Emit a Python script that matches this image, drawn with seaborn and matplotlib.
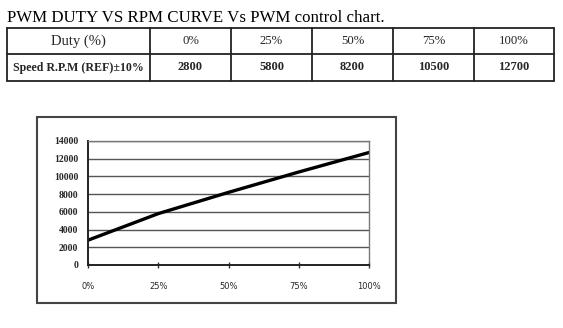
import matplotlib
matplotlib.use("Agg")
import matplotlib.pyplot as plt
import seaborn as sns
import pandas as pd
from matplotlib.lines import Line2D
from matplotlib.patches import Rectangle

# ---- data ----
duty_labels = ["0%", "25%", "50%", "75%", "100%"]
duty_values = [0, 25, 50, 75, 100]
rpm_values = [2800, 5800, 8200, 10500, 12700]
y_ticks = [0, 2000, 4000, 6000, 8000, 10000, 12000, 14000]
title_text = "PWM DUTY VS RPM CURVE Vs PWM control chart."
row_header_1 = "Duty (%)"
row_header_2 = "Speed R.P.M (REF)±10%"

sns.set_theme(style="white")
plt.rcParams["font.family"] = ["Liberation Serif", "DejaVu Serif"]

W, H = 563, 328
fig = plt.figure(figsize=(W / 100, H / 100), dpi=100)

def fx(px):
    return px / W

def fy(py):
    return 1 - py / H

# ---- title ----
fig.text(fx(7), fy(22), title_text, fontsize=12.2, ha="left", va="baseline",
         family="Liberation Serif", color="black")

# ---- table ----
col_edges = [7, 150, 231, 312, 393, 474, 554]
row_edges = [28, 54, 81]
lc = "#222222"
for r in row_edges:
    fig.add_artist(Line2D([fx(col_edges[0]), fx(col_edges[-1])], [fy(r), fy(r)],
                          color=lc, lw=1.3, transform=fig.transFigure))
for c in col_edges:
    fig.add_artist(Line2D([fx(c), fx(c)], [fy(row_edges[0]), fy(row_edges[-1])],
                          color=lc, lw=1.3, transform=fig.transFigure))

row1_y = (row_edges[0] + row_edges[1]) / 2
row2_y = (row_edges[1] + row_edges[2]) / 2
fig.text(fx((col_edges[0] + col_edges[1]) / 2), fy(row1_y), row_header_1,
         fontsize=10.5, ha="center", va="center", family="Liberation Serif")
fig.text(fx((col_edges[0] + col_edges[1]) / 2), fy(row2_y), row_header_2,
         fontsize=8.6, ha="center", va="center", family="Liberation Serif",
         fontweight="bold")
for i, (lab, val) in enumerate(zip(duty_labels, rpm_values)):
    cx = (col_edges[i + 1] + col_edges[i + 2]) / 2
    fig.text(fx(cx), fy(row1_y), lab, fontsize=9.2, ha="center", va="center",
             family="Liberation Serif")
    fig.text(fx(cx), fy(row2_y), str(val), fontsize=9, ha="center", va="center",
             family="Liberation Serif", fontweight="bold")

# ---- chart outer frame ----
fig.add_artist(Rectangle((fx(37), fy(303)), fx(396) - fx(37), fy(117) - fy(303),
                         transform=fig.transFigure, fill=False,
                         edgecolor="#444444", lw=1.5))

# ---- chart ----
ax = fig.add_axes([fx(88), fy(265), fx(369) - fx(88), fy(141) - fy(265)])
df = pd.DataFrame({"duty": duty_values, "rpm": rpm_values})
sns.lineplot(data=df, x="duty", y="rpm", ax=ax, color="black", lw=2.4)

ax.set_xlim(0, 100)
ax.set_ylim(0, 14000)
ax.set_yticks(y_ticks)
ax.set_yticklabels([str(v) for v in y_ticks], fontsize=7, fontweight="bold",
                   family="Liberation Serif")
ax.set_xticks(duty_values)
ax.set_xticklabels(duty_labels, fontsize=6, family="DejaVu Sans")
ax.set_xlabel("")
ax.set_ylabel("")
ax.grid(axis="y", color="#555555", lw=1.0)
ax.grid(axis="x", visible=False)
ax.set_axisbelow(True)
ax.tick_params(axis="y", length=0, pad=7)
ax.tick_params(axis="x", direction="inout", length=4, width=1, color="#333333",
               pad=10, bottom=True)
for side in ["top", "right"]:
    ax.spines[side].set_color("#777777")
    ax.spines[side].set_linewidth(1.0)
for side in ["left", "bottom"]:
    ax.spines[side].set_color("#222222")
    ax.spines[side].set_linewidth(1.4)

fig.savefig("out.png", dpi=100)
